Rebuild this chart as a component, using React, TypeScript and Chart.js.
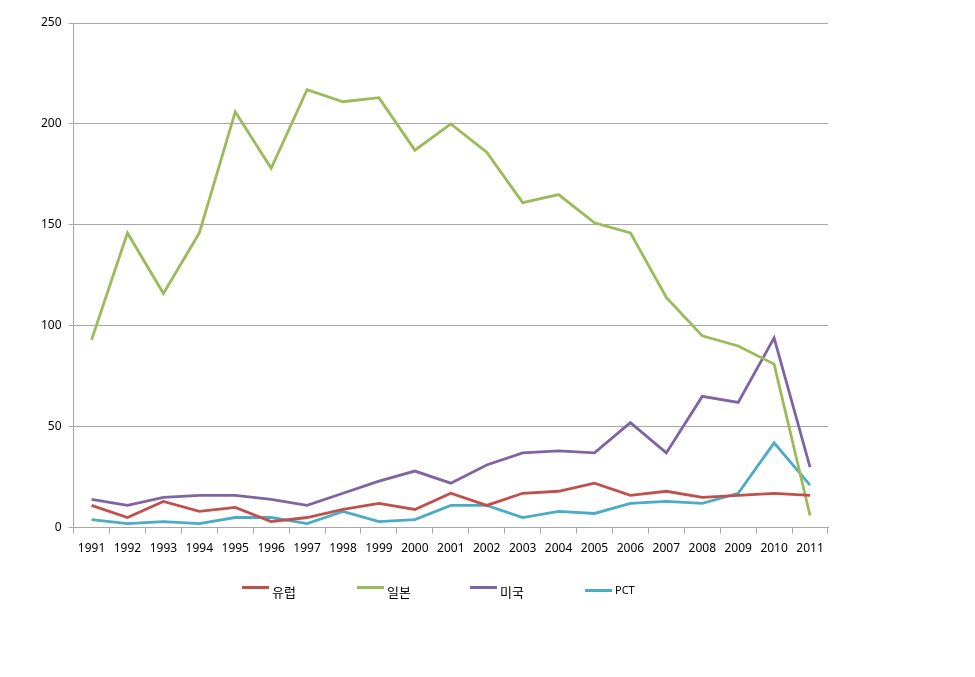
import React, { useEffect, useRef } from "react";
import { Chart, registerables } from "chart.js";

Chart.register(...registerables);

const years = ["1991","1992","1993","1994","1995","1996","1997","1998","1999","2000","2001","2002","2003","2004","2005","2006","2007","2008","2009","2010","2011"];
const europe = [11, 5, 13, 8, 10, 3, 5, 9, 12, 9, 17, 11, 17, 18, 22, 16, 18, 15, 16, 17, 16];
const japan = [93, 146, 116, 146, 206, 178, 217, 211, 213, 187, 200, 186, 161, 165, 151, 146, 114, 95, 90, 81, 6];
const usa = [14, 11, 15, 16, 16, 14, 11, 17, 23, 28, 22, 31, 37, 38, 37, 52, 37, 65, 62, 94, 30];
const pct = [4, 2, 3, 2, 5, 5, 2, 8, 3, 4, 11, 11, 5, 8, 7, 12, 13, 12, 17, 42, 21];
const seriesNames = ["유럽", "일본", "미국", "PCT"];
const yTicks = [0, 50, 100, 150, 200, 250];
const colors = ["#C0504D", "#9BBB59", "#8064A2", "#4BACC6"];

const FONT = "'Noto Sans', 'Noto Sans CJK KR', sans-serif";

// legend item positions (layout only)
const legendX = [242, 357, 470, 585];

export default function App() {
  const ref = useRef<HTMLCanvasElement | null>(null);
  useEffect(() => {
    if (!ref.current) return;
    const data = [europe, japan, usa, pct];
    const chart = new Chart(ref.current, {
      type: "line",
      data: {
        labels: years,
        datasets: data.map((d, i) => ({
          label: seriesNames[i],
          data: d,
          borderColor: colors[i],
          backgroundColor: colors[i],
          borderWidth: 2.8,
          pointRadius: 0,
          tension: 0,
          fill: false,
        })),
      },
      options: {
        responsive: false,
        animation: false,
        layout: { padding: { left: 34, right: 147, top: 23, bottom: 113 } },
        plugins: {
          tooltip: { enabled: false },
          legend: { display: false },
        },
        scales: {
          x: {
            offset: true,
            grid: {
              display: true,
              drawOnChartArea: false,
              offset: true,
              color: "#a6a6a6",
              tickLength: 6,
            },
            border: { color: "#a6a6a6", width: 1 },
            ticks: { color: "#000", font: { family: FONT, size: 12 }, maxRotation: 0, autoSkip: false, padding: 8 },
          },
          y: {
            min: 0,
            max: 250,
            afterBuildTicks: (axis: any) => {
              axis.ticks = yTicks.map((v) => ({ value: v }));
            },
            grid: { color: "#a6a6a6", tickLength: 5 },
            border: { color: "#a6a6a6", width: 1 },
            ticks: { color: "#000", font: { family: FONT, size: 12 }, padding: 7 },
          },
        },
      },
    });
    return () => chart.destroy();
  }, []);
  return (
    <div style={{ position: "absolute", left: 0, top: 0, width: 975, height: 677, background: "#fff" }}>
      <canvas ref={ref} width={975} height={677} />
      {seriesNames.map((name, i) => (
        <div
          key={name}
          style={{
            position: "absolute",
            left: legendX[i],
            top: 580,
            height: 20,
            display: "flex",
            alignItems: "center",
            fontFamily: FONT,
            fontSize: i === 3 ? 11 : 13,
            color: "#000",
            whiteSpace: "nowrap",
          }}
        >
          <span style={{ display: "inline-block", width: 27, height: 3, background: colors[i], marginRight: 3, marginTop: i === 3 ? 0 : -6 }} />
          <span style={{ marginTop: i === 3 ? -2 : 2 }}>{name}</span>
        </div>
      ))}
    </div>
  );
}
